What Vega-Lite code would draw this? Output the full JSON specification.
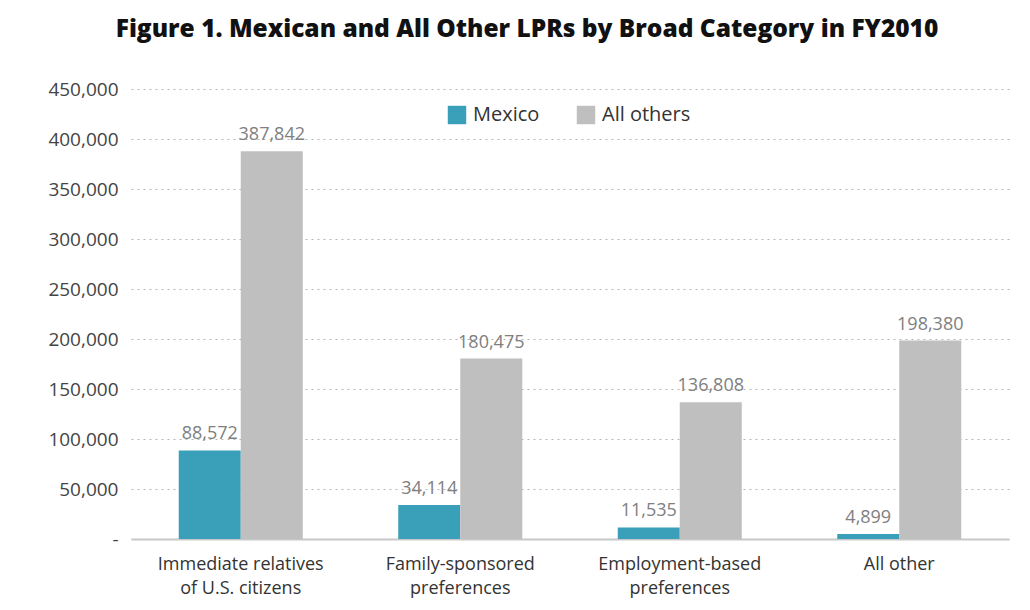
{
  "$schema": "https://vega.github.io/schema/vega-lite/v6.json",
  "width": 878,
  "height": 450,
  "padding": {"left": 5, "top": 16, "right": 5, "bottom": 5},
  "background": "white",
  "title": {
    "text": "Figure 1. Mexican and All Other LPRs by Broad Category in FY2010",
    "font": "Open Sans",
    "fontSize": 24.5,
    "fontWeight": 800,
    "color": "#111111",
    "anchor": "middle",
    "frame": "bounds",
    "offset": 38,
    "dx": 20
  },
  "data": {
    "values": [
      {"category": "Immediate relatives|of U.S. citizens", "series": "Mexico", "value": 88572},
      {"category": "Immediate relatives|of U.S. citizens", "series": "All others", "value": 387842},
      {"category": "Family-sponsored|preferences", "series": "Mexico", "value": 34114},
      {"category": "Family-sponsored|preferences", "series": "All others", "value": 180475},
      {"category": "Employment-based|preferences", "series": "Mexico", "value": 11535},
      {"category": "Employment-based|preferences", "series": "All others", "value": 136808},
      {"category": "All other", "series": "Mexico", "value": 4899},
      {"category": "All other", "series": "All others", "value": 198380}
    ]
  },
  "encoding": {
    "x": {
      "field": "category",
      "type": "nominal",
      "sort": null,
      "scale": {"paddingInner": 0.435, "paddingOuter": 0.2175},
      "axis": {
        "title": null,
        "labelAngle": 0,
        "labelExpr": "split(datum.label, '|')",
        "labelFont": "Open Sans",
        "labelFontSize": 18,
        "labelColor": "#333333",
        "labelPadding": 16,
        "labelLineHeight": 24,
        "ticks": false,
        "domain": true,
        "domainColor": "#c8c8c8",
        "domainWidth": 2
      }
    },
    "xOffset": {"field": "series", "type": "nominal", "sort": ["Mexico", "All others"]},
    "y": {
      "field": "value",
      "type": "quantitative",
      "scale": {"domain": [0, 450000]},
      "axis": {
        "title": null,
        "values": [0, 50000, 100000, 150000, 200000, 250000, 300000, 350000, 400000, 450000],
        "format": ",d",
        "labelExpr": "datum.value === 0 ? '-' : datum.label",
        "labelFont": "Open Sans",
        "labelFontSize": 19,
        "labelColor": "#444444",
        "labelPadding": 13,
        "ticks": false,
        "domain": false,
        "grid": true,
        "gridColor": "#b5b5b5",
        "gridDash": [2, 4],
        "gridWidth": 1.2,
        "minExtent": 126,
        "maxExtent": 126
      }
    }
  },
  "layer": [
    {
      "mark": {"type": "bar"},
      "encoding": {
        "color": {
          "field": "series",
          "type": "nominal",
          "sort": ["Mexico", "All others"],
          "scale": {"domain": ["Mexico", "All others"], "range": ["#3a9fb8", "#bfbfbf"]},
          "legend": {
            "title": null,
            "orient": "none",
            "direction": "horizontal",
            "legendX": 316,
            "legendY": 16,
            "symbolType": "square",
            "symbolSize": 340,
            "symbolStrokeWidth": 0,
            "labelFont": "Open Sans",
            "labelFontSize": 20,
            "labelColor": "#333333",
            "columnPadding": 36,
            "labelOffset": 6
          }
        }
      }
    },
    {
      "mark": {
        "type": "text",
        "baseline": "bottom",
        "dy": -7,
        "font": "Open Sans",
        "fontSize": 18,
        "color": "#808080"
      },
      "encoding": {
        "text": {"field": "value", "type": "quantitative", "format": ","}
      }
    }
  ],
  "config": {
    "view": {"stroke": null}
  }
}
